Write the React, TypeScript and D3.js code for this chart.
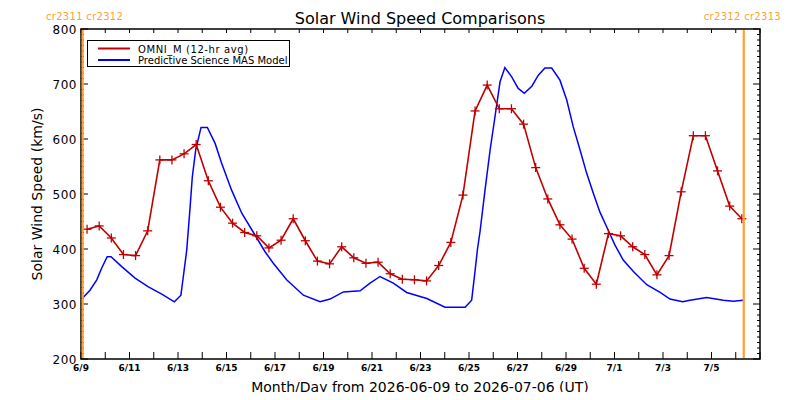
import { useMemo } from 'react';
import * as d3 from 'd3';

// --- Data ---
// OMNI 12-hr averages, first sample 6/9 06:00 UT, one every 12 hours
const omniStartDay = 0.25;
const omniStepDay = 0.5;
const omniSpeed = [
    436, 442, 420, 390, 388, 433, 562, 562, 573, 590, 524, 476, 447, 430, 424, 402,
    416, 455, 415, 378, 373, 404, 384, 374, 376, 355, 345, 344, 342, 370, 412, 498,
    651, 698, 655, 655, 627, 548, 491, 444, 418, 365, 336, 428, 424, 404, 390, 353,
    388, 504, 606, 606, 542, 478, 455,
];

// MAS model (days after 2026-06-09 00:00 UT)
const masDays = [
    0.03, 0.37, 0.65, 0.85, 1.08, 1.24, 1.68, 2.23, 2.78, 3.33, 3.85, 4.12, 4.22, 4.36,
    4.49, 4.59, 4.73, 4.95, 5.21, 5.53, 5.8, 6.21, 6.63, 7.18, 7.59, 7.93, 8.48, 9.17,
    9.86, 10.27, 10.82, 11.51, 11.92, 12.33, 12.88, 13.43, 14.26, 15.01, 15.84, 16.11,
    16.25, 16.35, 16.45, 16.66, 16.87, 17.07, 17.28, 17.48, 17.76, 18.03, 18.28, 18.59,
    18.86, 19.13, 19.41, 19.75, 20.03, 20.3, 20.58, 20.85, 21.13, 21.4, 21.68, 22.02,
    22.36, 22.78, 23.33, 23.88, 24.29, 24.81, 25.11, 25.8, 26.49, 26.9, 27.31,
];
const masSpeed = [
    309, 325, 344, 365, 386, 386, 368, 347, 331, 318, 304, 316, 350, 398,
    471, 531, 580, 621, 621, 592, 556, 507, 465, 425, 395, 374, 344, 316,
    304, 309, 322, 324, 338, 350, 338, 321, 310, 294, 294, 307,
    360, 400, 430, 507, 580, 640, 704, 730, 713, 692, 683, 696,
    716, 729, 729, 707, 671, 622, 580, 538, 501, 467, 440, 407,
    380, 359, 335, 321, 309, 304, 307, 312, 307, 305, 307,
];

// Carrington rotation boundaries (days after start)
const crBoundaries = [0.07, 27.33];
const crLeftLabel = 'cr2311 cr2312';
const crRightLabel = 'cr2312 cr2313';

const xTickLabels = ['6/9', '6/11', '6/13', '6/15', '6/17', '6/19', '6/21', '6/23', '6/25', '6/27', '6/29', '7/1', '7/3', '7/5'];
const yTicks = [200, 300, 400, 500, 600, 700, 800];

const totalDays = 28;
const W = 800, H = 400;
const left = 81, right = 760, top = 29, bottom = 359;

const RED = '#c00000';
const BLUE = '#0000ff';
const ORANGE = '#ffa030';
const FONT = '"DejaVu Sans", sans-serif';

const App = () => {
    const x = useMemo(() => d3.scaleLinear().domain([0, totalDays]).range([left, right]), []);
    const y = useMemo(() => d3.scaleLinear().domain([200, 800]).range([bottom, top]), []);

    const omni = omniSpeed.map((v, i) => ({ t: omniStartDay + i * omniStepDay, v }));
    const mas = masSpeed.map((v, i) => ({ t: masDays[i], v }));

    const line = d3.line<{ t: number; v: number }>()
        .x(d => x(d.t))
        .y(d => y(d.v));

    const dayTicks = d3.range(0, totalDays + 1);
    const minorY = d3.range(200, 801, 10);

    return (
        <svg width={W} height={H} style={{ display: 'block', margin: -8, background: '#fff' }}>
            <rect width={W} height={H} fill="#fff" />

            {/* title */}
            <text x={420} y={24} textAnchor="middle" fontFamily={FONT} fontSize={16} fill="#000">
                Solar Wind Speed Comparisons
            </text>

            {/* Carrington labels */}
            <text x={46} y={20} fontFamily={FONT} fontSize={10} letterSpacing={0.3} fill={ORANGE}>{crLeftLabel}</text>
            <text x={781} y={20} textAnchor="end" fontFamily={FONT} fontSize={10} letterSpacing={0.3} fill={ORANGE}>{crRightLabel}</text>

            {/* series */}
            <path d={line(mas) ?? ''} fill="none" stroke={BLUE} strokeWidth={1.5} />
            <path d={line(omni) ?? ''} fill="none" stroke={RED} strokeWidth={1.6} />
            {omni.map((d, i) => (
                <g key={i} stroke={RED} strokeWidth={1.3}>
                    <line x1={x(d.t) - 4.5} x2={x(d.t) + 4.5} y1={y(d.v)} y2={y(d.v)} />
                    <line x1={x(d.t)} x2={x(d.t)} y1={y(d.v) - 4.5} y2={y(d.v) + 4.5} />
                </g>
            ))}

            {/* frame */}
            <rect x={left} y={top} width={right - left} height={bottom - top} fill="none" stroke="#000" strokeWidth={1.5} />

            {/* x ticks (bottom and top) */}
            {dayTicks.map(t => (
                <g key={t} stroke="#000" strokeWidth={1}>
                    <line x1={x(t)} x2={x(t)} y1={bottom} y2={bottom - 7} />
                    <line x1={x(t)} x2={x(t)} y1={top} y2={top + 4} />
                </g>
            ))}
            {xTickLabels.map((lab, i) => (
                <text key={lab} x={x(i * 2)} y={371} textAnchor="middle" fontFamily={FONT} fontSize={9} fontWeight="bold" fill="#000">
                    {lab}
                </text>
            ))}

            {/* y ticks (left and right) */}
            {minorY.map(v => {
                const major = v % 100 === 0;
                const len = major ? 7 : 3;
                return (
                    <g key={v} stroke="#000" strokeWidth={1}>
                        <line x1={left} x2={left + len} y1={y(v)} y2={y(v)} />
                        <line x1={right} x2={right - len} y1={y(v)} y2={y(v)} />
                    </g>
                );
            })}
            {yTicks.map(v => (
                <text key={v} x={77} y={y(v) + 4.5} textAnchor="end" fontFamily={FONT} fontSize={12} letterSpacing={0.5} fill="#000">
                    {v}
                </text>
            ))}

            {/* CR boundaries, drawn over the ticks */}
            {crBoundaries.map((t, i) => (
                <line key={i} x1={x(t)} x2={x(t)} y1={top + 1} y2={bottom - 1} stroke={ORANGE} strokeWidth={2.2} />
            ))}

            {/* axis titles */}
            <text x={420} y={392} textAnchor="middle" fontFamily={FONT} fontSize={14} fill="#000">
                Month/Day from 2026-06-09 to 2026-07-06 (UT)
            </text>
            <text transform={`translate(42,${(top + bottom) / 2}) rotate(-90)`} textAnchor="middle" fontFamily={FONT} fontSize={14} fill="#000">
                Solar Wind Speed (km/s)
            </text>

            {/* legend */}
            <rect x={87.5} y={40.5} width={202} height={26} fill="#fff" stroke="#000" strokeWidth={1} />
            <line x1={98} x2={130} y1={48.5} y2={48.5} stroke={RED} strokeWidth={2} />
            <line x1={98} x2={130} y1={60} y2={60} stroke={BLUE} strokeWidth={2} />
            <text x={138} y={52.5} fontFamily={FONT} fontSize={10} letterSpacing={0.6} fill="#000">OMNI_M (12-hr avg)</text>
            <text x={138} y={64} fontFamily={FONT} fontSize={10} fill="#000">Predictive Science MAS Model</text>
        </svg>
    );
};

export default App;
